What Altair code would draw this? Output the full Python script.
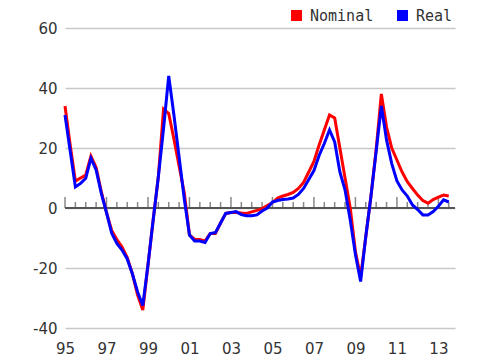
import altair as alt
import pandas as pd

# Quarterly periods 1995Q1 .. 2013Q3
quarters = [1995 + 0.25 * i for i in range(75)]

nominal = [34, 21, 9, 10,
           11, 17.3, 13.5, 5.5,
           -1.5, -7.5, -10.5, -13,
           -16.5, -22, -29, -34,
           -19, -4, 10.5, 33,
           31.5, 23, 14, 5,
           -9, -10.5, -10.5, -11,
           -8.5, -8.5, -5, -1.8,
           -1.5, -1.5, -1.7, -1.8,
           -1.3, -0.8, -0.2, 0.8,
           1.8, 3.3, 4, 4.5,
           5.2, 6.5, 8.5, 12,
           15.5, 21, 26, 31,
           30, 20, 10, 0,
           -14.5, -23, -9.5, 4,
           19.5, 38, 27, 20,
           16, 12, 8.8, 6.5,
           4.3, 2.5, 1.6, 2.8,
           3.6, 4.3, 4]

real = [31, 19, 7, 8.2,
        9.9, 16.6, 12.7, 4.9,
        -1.5, -8.4, -11.8, -14,
        -17, -22, -28, -32.5,
        -19, -4, 10.4, 26.5,
        44, 31, 17, 3,
        -9, -11, -11, -11.5,
        -8.5, -8.2, -5, -1.8,
        -1.5, -1.2, -2.2, -2.6,
        -2.6, -2.3, -1, 0,
        2, 2.5, 2.8, 3,
        3.3, 4.5, 6.5, 9.5,
        12.5, 17.5, 21.5, 26,
        22, 12, 6, -4,
        -15.5, -24.5, -9.5, 4,
        19, 34, 22.7, 14.8,
        9, 6, 4, 1,
        -0.5, -2.3, -2.3, -1.2,
        0.6, 2.7, 2]

series_names = ["Nominal", "Real"]
series_colors = ["#ff0000", "#0000ff"]

x_label_years = [1995, 1997, 1999, 2001, 2003, 2005, 2007, 2009, 2011, 2013]
y_ticks = [-40, -20, 0, 20, 40, 60]
half_year_ticks = [1995 + 0.5 * i for i in range(38)]

rows = []
for q, n, r in zip(quarters, nominal, real):
    rows.append({"t": q, "value": n, "series": "Nominal"})
    rows.append({"t": q, "value": r, "series": "Real"})
df = pd.DataFrame(rows)

ticks_df = pd.DataFrame({"t": half_year_ticks})
ticks_df["major"] = [(v == int(v) and int(v) % 2 == 1) for v in half_year_ticks]

FONT = "DejaVu Sans"
xscale = alt.Scale(domain=[1995, 2013.8], nice=False, zero=False)
yscale = alt.Scale(domain=[-40, 60], nice=False)

lines = alt.Chart(df).mark_line(strokeWidth=3).encode(
    x=alt.X("t:Q", scale=xscale, title=None,
            axis=alt.Axis(values=x_label_years, labelExpr="slice(toString(datum.value), 2)",
                          ticks=False, domain=False, grid=False, labelFont=FONT,
                          labelFontSize=15, labelColor="#333333", labelPadding=13,
                          labelFlush=False)),
    y=alt.Y("value:Q", scale=yscale, title=None,
            axis=alt.Axis(values=y_ticks, labelExpr="toString(datum.value)",
                          ticks=False, domain=False, grid=True,
                          gridColor="#c8c8c8", gridWidth=1.5, labelFont=FONT,
                          labelFontSize=15, labelColor="#333333", labelPadding=8)),
    color=alt.Color("series:N", scale=alt.Scale(domain=series_names, range=series_colors),
                    legend=alt.Legend(title=None, orient="none", direction="horizontal",
                                      legendX=224, legendY=-20, symbolType="square",
                                      symbolSize=25, symbolStrokeWidth=6,
                                      symbolOpacity=1,
                                      labelFont="DejaVu Sans Mono",
                                      labelFontSize=15, labelColor="#333333",
                                      labelOffset=6, columnPadding=14, padding=0)),
    order=alt.Order("series:N"),
)

zero_line = alt.Chart(pd.DataFrame({"y": [0]})).mark_rule(color="#555555", strokeWidth=2).encode(
    y=alt.Y("y:Q", scale=yscale)
)

minor_ticks = alt.Chart(ticks_df).transform_filter("!datum.major").mark_tick(
    orient="vertical", size=6, thickness=1.5, color="#555555", yOffset=-3
).encode(x=alt.X("t:Q", scale=xscale), y=alt.datum(0, scale=yscale))

major_ticks = alt.Chart(ticks_df).transform_filter("datum.major").mark_tick(
    orient="vertical", size=11, thickness=1.5, color="#555555", yOffset=-5.5
).encode(x=alt.X("t:Q", scale=xscale), y=alt.datum(0, scale=yscale))

chart = alt.layer(zero_line, minor_ticks, major_ticks, lines).properties(
    width=390, height=300,
    autosize=alt.AutoSizeParams(type="none"),
    padding={"left": 57, "top": 20, "right": 10, "bottom": 30},
).configure_view(stroke=None)

chart.save("out.html", embed_options={"renderer": "svg", "actions": False})
